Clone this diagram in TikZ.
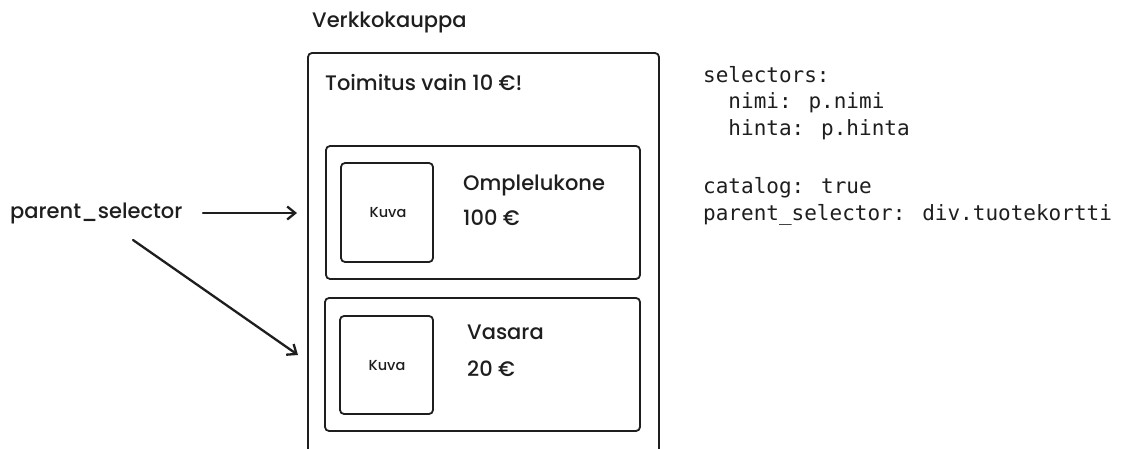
\documentclass[tikz,border=0pt]{standalone}
\usepackage{fontspec}
\setmainfont{Poppins}[BoldFont={Poppins Medium}]
\newfontfamily\codefont{DejaVu Sans Mono}
\usetikzlibrary{arrows.meta}
\definecolor{ink}{HTML}{1E1E1E}
\tikzset{
  sketch/.style={draw=ink, line width=1.8pt, rounded corners=4pt},
  lbl/.style={text=ink, inner sep=0pt, anchor=west},
  big/.style={lbl, font=\bfseries\fontsize{21}{24}\selectfont},
  small/.style={text=ink, inner sep=0pt, font=\bfseries\fontsize{14.5}{17}\selectfont},
  code/.style={text=ink, inner sep=0pt, anchor=west, font=\codefont\fontsize{21}{24}\selectfont},
  pointer/.style={draw=ink, line width=2.3pt, line cap=round, -{Straight Barb[length=8pt,width=13pt,line width=2.3pt]}},
}
\begin{document}
\begin{tikzpicture}[x=1pt,y=-1pt]
\useasboundingbox (0,0) rectangle (1125,449);
\fill[white] (0,0) rectangle (1125,449);
\begin{scope}
\clip (0,0) rectangle (1125,449);
\draw[sketch] (308,470) -- (308,53) -- (659,53) -- (659,470);
\end{scope}
% cards
\draw[sketch] (326,146) rectangle (640,279);
\draw[sketch] (341,163) rectangle (433,262);
\draw[sketch] (325,298) rectangle (640,431);
\draw[sketch] (340,316) rectangle (433,414);
% texts
\node[big] (title) at (312,22) {Verkkokauppa};
\node[big] (ship) at (325,83) {Toimitus vain 10 €!};
\node[small] (img1) at (388,213) {Kuva};
\node[small] (img2) at (387,366) {Kuva};
\node[big] (name1) at (463,185) {Omplelukone};
\node[big] (price1) at (463,218) {100 €};
\node[big] (name2) at (467,332) {Vasara};
\node[big] (price2) at (467,369) {20 €};
\node[big] (ps) at (10,213) {parent\_selector};
% code
\node[code] (c1) at (703,75) {selectors:};
\node[code] (c2) at (703,103) {\ \ nimi: p.nimi};
\node[code] (c3) at (703,130) {\ \ hinta: p.hinta};
\node[code] (c4) at (703,188) {catalog: true};
\node[code] (c5) at (703,215) {parent\_selector: div.tuotekortti};
% arrows
\coordinate (s1) at (203,213);
\coordinate (t1) at (297,213);
\coordinate (s2) at (133,240);
\coordinate (t2) at (298,355);
\draw[pointer] (s1) -- (t1);
\draw[pointer] (s2) -- (t2);
\end{tikzpicture}
\end{document}
